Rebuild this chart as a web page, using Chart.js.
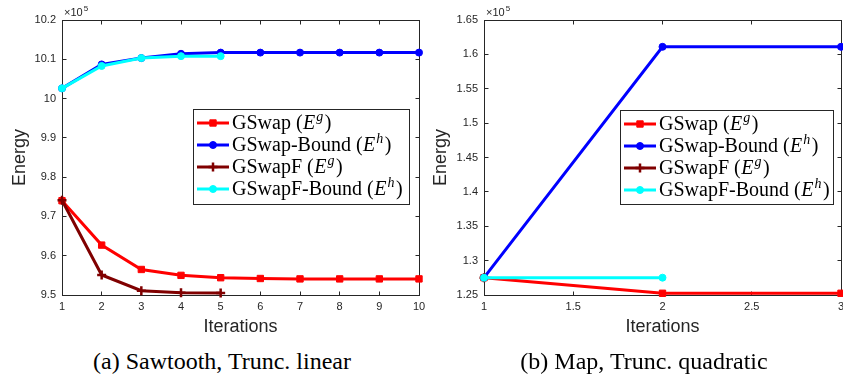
<!DOCTYPE html>
<html><head><meta charset="utf-8">
<script src="https://cdn.jsdelivr.net/npm/chart.js@4/dist/chart.umd.min.js"></script>
<style>
html,body{margin:0;padding:0;background:#fff;width:843px;height:375px;overflow:hidden;position:relative}
canvas{position:absolute;top:0}
#c1{left:0}
#c2{left:421px}
.cap{position:absolute;font-family:"Liberation Serif","Times New Roman",serif;font-size:24px;line-height:28px;color:#000;white-space:nowrap;transform:translateX(-50%);top:347px}
</style></head><body>
<canvas id="c1" width="432" height="340"></canvas>
<canvas id="c2" width="434" height="340"></canvas>
<div class="cap" style="left:222px">(a) Sawtooth, Trunc. linear</div>
<div class="cap" style="left:644px">(b) Map, Trunc. quadratic</div>
<script>
// ---- data (values in units of 10^5) ----
const seriesNames = ['GSwap', 'GSwap-Bound', 'GSwapF', 'GSwapF-Bound'];
const seriesSup = ['g', 'h', 'g', 'h'];
const xTitle = 'Iterations';
const yTitle = 'Energy';

const itersA = [1, 2, 3, 4, 5, 6, 7, 8, 9, 10];
const gswapA = [9.740, 9.627, 9.565, 9.550, 9.544, 9.542, 9.541, 9.541, 9.541, 9.541];
const gswapBoundA = [10.026, 10.087, 10.103, 10.114, 10.117, 10.117, 10.117, 10.117, 10.117, 10.117];
const gswapFA = [9.741, 9.551, 9.511, 9.506, 9.505];
const gswapFBoundA = [10.026, 10.083, 10.103, 10.108, 10.108];

const itersB = [1, 2, 3];
const gswapB = [1.2752, 1.2525, 1.2525];
const gswapBoundB = [1.2752, 1.611, 1.611];
const gswapFB = [1.2752];
const gswapFBoundB = [1.2752, 1.2752];

// ---- styling ----
const AX = '#262626';
const SANS = '"Liberation Sans", Arial, Helvetica, sans-serif';
const SERIF = '"Liberation Serif", "Times New Roman", serif';
const colors = ['#ff0000', '#0000ff', '#800000', '#00ffff'];
const styles = ['rect', 'circle', 'cross', 'circle'];
const radii = [4.5, 3.5, 4.5, 3.5];

function fmt(v) { return String(parseFloat(Number(v).toFixed(3))); }

function makeDatasets(xs, seriesList) {
  return seriesList.map((ys, i) => ({
    label: seriesNames[i],
    data: ys.map((y, k) => ({ x: xs[k], y: y })),
    borderColor: colors[i],
    backgroundColor: colors[i],
    pointBackgroundColor: colors[i],
    pointBorderColor: colors[i],
    borderWidth: 3,
    pointStyle: styles[i],
    pointRadius: radii[i],
    pointBorderWidth: styles[i] === 'cross' ? 2.5 : 1,
    tension: 0,
    clip: false,
    order: 4 - i
  }));
}

function drawMarker(ctx, style, x, y, r, color) {
  ctx.save();
  ctx.fillStyle = color; ctx.strokeStyle = color;
  ctx.beginPath();
  if (style === 'rect') {
    const s = Math.SQRT1_2 * r;
    ctx.rect(x - s, y - s, 2 * s, 2 * s);
    ctx.fill(); ctx.lineWidth = 1; ctx.stroke();
  } else if (style === 'circle') {
    ctx.arc(x, y, r, 0, Math.PI * 2);
    ctx.fill(); ctx.lineWidth = 1; ctx.stroke();
  } else if (style === 'cross') {
    ctx.lineWidth = 2.5;
    ctx.moveTo(x - r, y); ctx.lineTo(x + r, y);
    ctx.moveTo(x, y - r); ctx.lineTo(x, y + r);
    ctx.stroke();
  }
  ctx.restore();
}

const framePlugin = {
  id: 'frame',
  beforeDatasetsDraw(chart) {
    const { ctx, chartArea: a, scales } = chart;
    const L = Math.floor(a.left) + 0.5, R = Math.floor(a.right) + 0.5;
    const T = Math.floor(a.top) + 0.5, B = Math.floor(a.bottom) + 0.5;
    ctx.save();
    ctx.strokeStyle = AX; ctx.lineWidth = 1;
    ctx.strokeRect(L, T, R - L, B - T);
    const tl = 4;
    ctx.beginPath();
    scales.x.ticks.forEach(t => {
      const px = Math.floor(scales.x.getPixelForValue(t.value)) + 0.5;
      ctx.moveTo(px, B); ctx.lineTo(px, B - tl);
      ctx.moveTo(px, T); ctx.lineTo(px, T + tl);
    });
    scales.y.ticks.forEach(t => {
      const py = Math.floor(scales.y.getPixelForValue(t.value)) + 0.5;
      ctx.moveTo(L, py); ctx.lineTo(L + tl, py);
      ctx.moveTo(R, py); ctx.lineTo(R - tl, py);
    });
    ctx.stroke();
    // exponent label
    ctx.fillStyle = AX;
    ctx.textBaseline = 'alphabetic';
    ctx.font = '11px ' + SANS;
    ctx.fillText('\u00d710', L + 1.5, T - 5);
    const w = ctx.measureText('\u00d710').width;
    ctx.font = '8px ' + SANS;
    ctx.fillText('5', L + 2.5 + w, T - 10);
    ctx.restore();
  },
  afterDatasetsDraw(chart, args, opts) {
    const box = opts.box;
    if (!box) return;
    const ctx = chart.ctx;
    const ds = chart.data.datasets;
    ctx.save();
    ctx.fillStyle = '#fff';
    ctx.fillRect(box.x, box.y, box.w, box.h);
    ctx.strokeStyle = AX; ctx.lineWidth = 1;
    ctx.strokeRect(box.x + 0.5, box.y + 0.5, box.w, box.h);
    ds.forEach((d, i) => {
      const cy = box.y + 14 + i * 22;
      ctx.strokeStyle = d.borderColor; ctx.lineWidth = 3;
      ctx.beginPath(); ctx.moveTo(box.x + 4, cy); ctx.lineTo(box.x + 36, cy); ctx.stroke();
      drawMarker(ctx, d.pointStyle, box.x + 20, cy, d.pointRadius, d.borderColor);
      let x = box.x + 39;
      const base = cy + 5.5;
      ctx.fillStyle = '#000';
      ctx.textBaseline = 'alphabetic';
      ctx.font = '20px ' + SERIF;
      const t1 = seriesNames[i] + ' (';
      ctx.fillText(t1, x, base); x += ctx.measureText(t1).width + 0.5;
      ctx.font = 'italic 20px ' + SERIF;
      ctx.fillText('E', x, base); x += ctx.measureText('E').width + 1;
      ctx.font = 'italic 14px ' + SERIF;
      ctx.fillText(seriesSup[i], x, base - 8); x += ctx.measureText(seriesSup[i]).width + 1.5;
      ctx.font = '20px ' + SERIF;
      ctx.fillText(')', x, base);
    });
    ctx.restore();
  }
};

function makeChart(id, xs, seriesList, xr, yr, padRight, yWidth, box) {
  return new Chart(document.getElementById(id), {
    type: 'line',
    data: { datasets: makeDatasets(xs, seriesList) },
    plugins: [framePlugin],
    options: {
      responsive: false, animation: false, devicePixelRatio: 1,
      layout: { autoPadding: false, padding: { left: 0, top: 20, right: padRight, bottom: 0 } },
      plugins: { legend: { display: false }, tooltip: { enabled: false }, frame: { box: box } },
      scales: {
        x: {
          type: 'linear', min: xr[0], max: xr[1],
          border: { display: false },
          grid: { display: false, drawTicks: false },
          ticks: { stepSize: xr[2], padding: 5, color: AX, autoSkip: false, maxRotation: 0,
                   font: { family: SANS, size: 11 }, callback: fmt },
          title: { display: true, text: xTitle, color: AX, font: { family: SANS, size: 18 },
                   padding: { top: 0, bottom: 2 } },
          afterFit(s) { s.height = 45; }
        },
        y: {
          type: 'linear', min: yr[0], max: yr[1],
          border: { display: false },
          grid: { display: false, drawTicks: false },
          ticks: { stepSize: yr[2], padding: 6, color: AX, autoSkip: false,
                   font: { family: SANS, size: 11 }, callback: fmt },
          title: { display: true, text: yTitle, color: AX, font: { family: SANS, size: 18 },
                   padding: { top: 9, bottom: 0 } },
          afterFit(s) { s.width = yWidth; }
        }
      }
    }
  });
}

makeChart('c1', itersA, [gswapA, gswapBoundA, gswapFA, gswapFBoundA],
  [1, 10, 1], [9.5, 10.2, 0.1], 13, 62, { x: 193, y: 109, w: 216, h: 95 });
makeChart('c2', itersB, [gswapB, gswapBoundB, gswapFB, gswapFBoundB],
  [1, 3, 0.5], [1.25, 1.65, 0.05], 14, 63, { x: 199, y: 110, w: 213, h: 94 });
</script>
</body></html>
